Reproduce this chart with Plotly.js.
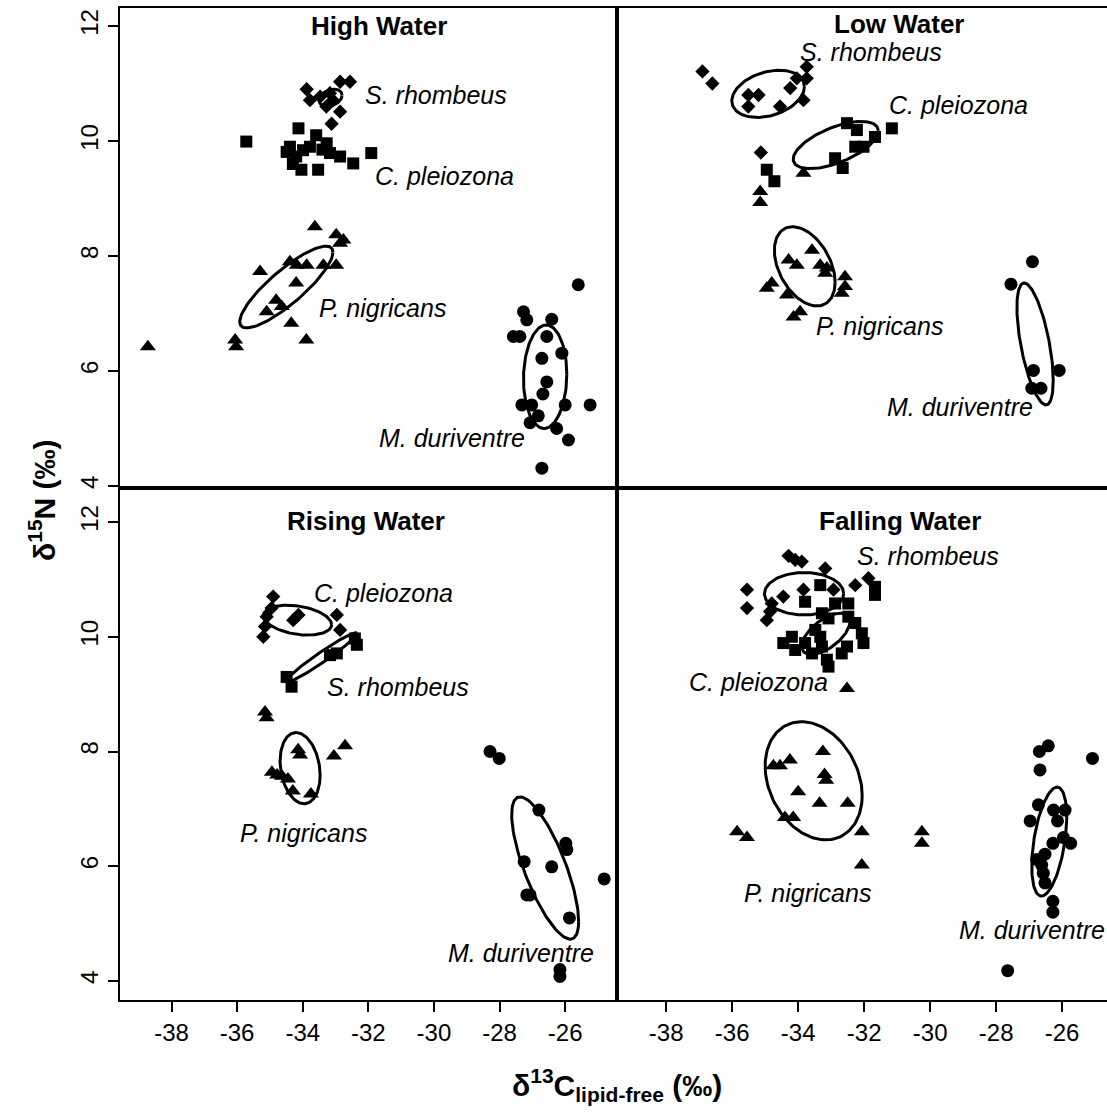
<!DOCTYPE html>
<html>
<head>
<meta charset="utf-8">
<script src="https://cdn.plot.ly/plotly-3.0.1.min.js"></script>
<style>html,body{margin:0;padding:0;background:#fff;}#chart{width:1107px;height:1114px;}</style>
</head>
<body>
<div id="chart"></div>
<script>
// ---------- DATA ----------
const panelTitles = ['High Water', 'Low Water', 'Rising Water', 'Falling Water'];
const xTickVals = [-38, -36, -34, -32, -30, -28, -26];
const xTickText = ['-38', '-36', '-34', '-32', '-30', '-28', '-26'];
const yTickVals = [4, 6, 8, 10, 12];
const yTickText = ['4', '6', '8', '10', '12'];

// High Water
const hwSrX = [-33.88, -32.56, -32.86, -33.12, -32.86, -33.78, -33.47, -33.17, -33.08, -33.28];
const hwSrY = [10.90, 11.03, 11.03, 10.30, 10.51, 10.71, 10.77, 10.83, 10.71, 10.60];
const hwCpX = [-35.72, -34.13, -33.59, -34.39, -33.99, -34.20, -34.04, -33.53, -33.78, -33.27, -33.17, -32.86, -32.46, -31.91, -34.49, -34.30, -33.40];
const hwCpY = [9.99, 10.22, 10.10, 9.90, 9.84, 9.73, 9.50, 9.50, 9.90, 9.96, 9.79, 9.73, 9.61, 9.79, 9.81, 9.60, 9.85];
const hwPnX = [-38.72, -36.06, -36.03, -35.30, -34.39, -34.18, -33.88, -33.37, -32.98, -32.86, -34.20, -34.81, -34.64, -35.10, -34.35, -33.89, -33.63, -32.98, -32.76];
const hwPnY = [6.42, 6.54, 6.42, 7.73, 7.90, 7.84, 7.84, 7.84, 7.84, 8.22, 7.53, 7.23, 7.12, 7.03, 6.83, 6.54, 8.51, 8.37, 8.28];
const hwMdX = [-25.60, -27.27, -27.17, -26.41, -27.58, -27.38, -26.56, -26.10, -26.71, -26.56, -26.68, -27.32, -27.02, -26.00, -25.24, -26.82, -27.07, -26.26, -25.90, -26.71];
const hwMdY = [7.50, 7.03, 6.89, 6.90, 6.60, 6.60, 6.60, 6.31, 6.22, 5.81, 5.60, 5.41, 5.41, 5.41, 5.41, 5.22, 5.10, 5.00, 4.80, 4.31];

// Low Water
const lwSrX = [-36.90, -36.60, -35.51, -35.20, -35.51, -34.55, -34.24, -34.04, -33.74, -33.84, -33.74, -35.13];
const lwSrY = [11.21, 11.00, 10.80, 10.80, 10.60, 10.60, 10.92, 11.09, 11.29, 10.71, 11.09, 9.80];
const lwCpX = [-34.95, -34.72, -32.52, -32.22, -32.27, -32.02, -32.88, -32.65, -31.67, -31.16];
const lwCpY = [9.50, 9.30, 10.31, 10.19, 9.90, 9.90, 9.70, 9.53, 10.07, 10.22];
const lwPnX = [-33.84, -35.15, -35.15, -33.58, -34.29, -34.04, -33.33, -33.13, -33.18, -32.58, -32.58, -32.68, -34.95, -34.80, -34.34, -34.14, -33.94];
const lwPnY = [9.44, 9.12, 8.93, 8.10, 7.93, 7.84, 7.84, 7.79, 7.70, 7.64, 7.47, 7.35, 7.44, 7.53, 7.32, 6.94, 7.03];
const lwMdX = [-26.90, -27.55, -26.87, -26.09, -26.92, -26.64];
const lwMdY = [7.90, 7.51, 6.01, 6.01, 5.70, 5.70];

// Rising Water
const rwSrX = [-34.90, -34.95, -35.10, -35.15, -35.20, -34.29, -34.13, -32.96, -32.86];
const rwSrY = [10.70, 10.50, 10.35, 10.18, 10.00, 10.29, 10.38, 10.38, 10.12];
const rwCpX = [-32.41, -32.35, -32.96, -33.17, -34.49, -34.34];
const rwCpY = [9.97, 9.86, 9.71, 9.68, 9.30, 9.13];
const rwPnX = [-35.15, -35.10, -34.14, -34.08, -34.94, -34.78, -34.63, -34.45, -34.30, -33.75, -33.05, -32.71];
const rwPnY = [8.69, 8.59, 8.03, 7.94, 7.64, 7.59, 7.57, 7.52, 7.31, 7.26, 7.92, 8.10];
const rwMdX = [-28.29, -28.01, -26.80, -25.98, -25.95, -27.25, -26.41, -27.17, -27.07, -25.87, -24.81, -26.16, -26.16];
const rwMdY = [8.00, 7.88, 6.98, 6.40, 6.29, 6.08, 5.99, 5.50, 5.50, 5.10, 5.78, 4.20, 4.08];

// Falling Water
const fwSrX = [-34.29, -34.09, -33.89, -33.18, -35.55, -35.55, -34.45, -33.84, -32.93, -32.27, -31.87, -34.80, -34.85, -34.95];
const fwSrY = [11.41, 11.34, 11.31, 11.19, 10.82, 10.50, 10.70, 10.82, 10.82, 10.90, 11.02, 10.58, 10.44, 10.29];
const fwCpX = [-33.33, -33.79, -32.88, -32.48, -33.28, -33.08, -32.48, -32.27, -32.07, -32.02, -31.67, -31.67, -34.45, -34.19, -34.09, -33.79, -33.58, -33.33, -33.28, -33.13, -33.08, -32.68, -32.52, -33.48];
const fwCpY = [10.90, 10.61, 10.58, 10.58, 10.41, 10.32, 10.35, 10.24, 10.06, 9.89, 10.87, 10.73, 9.89, 10.00, 9.77, 9.89, 9.71, 10.00, 9.83, 9.60, 9.48, 9.71, 9.83, 10.12];
const fwPnX = [-34.75, -34.55, -34.25, -33.25, -33.20, -33.15, -34.00, -34.40, -34.15, -33.35, -32.50, -32.07, -32.07, -35.85, -35.55, -30.25, -30.25, -32.52];
const fwPnY = [7.75, 7.75, 7.85, 8.00, 7.60, 7.50, 7.30, 6.85, 6.85, 7.10, 7.10, 6.60, 6.02, 6.60, 6.50, 6.60, 6.40, 9.10];
const fwMdX = [-26.42, -26.69, -26.67, -25.08, -26.72, -26.26, -25.91, -26.97, -26.14, -25.96, -25.74, -26.28, -26.52, -26.77, -26.62, -26.57, -26.52, -26.28, -26.28, -27.65];
const fwMdY = [8.10, 8.00, 7.68, 7.88, 7.07, 6.98, 6.98, 6.79, 6.79, 6.50, 6.40, 6.40, 6.21, 6.12, 6.02, 5.88, 5.71, 5.39, 5.20, 4.18];

// Standard ellipses: [centre x, centre y, half-width, half-height, correlation]
const hwEllipses = [[-33.15, 10.75, 0.35, 0.15, 0.3], [-34.5, 7.46, 1.42, 0.71, 0.85], [-26.61, 5.90, 0.66, 0.90, 0.05]];
const lwEllipses = [[-34.91, 10.82, 1.10, 0.41, 0.3], [-32.86, 9.93, 1.29, 0.41, 0.6], [-33.80, 7.82, 0.92, 0.69, -0.4], [-26.82, 6.47, 0.55, 1.06, -0.6]];
const rwEllipses = [[-34.16, 10.29, 1.04, 0.26, -0.3], [-33.43, 9.64, 1.08, 0.43, 0.97], [-34.08, 7.71, 0.61, 0.62, -0.2], [-26.61, 5.97, 1.02, 1.24, -0.75]];
const fwEllipses = [[-33.82, 10.75, 1.20, 0.37, 0.0], [-33.16, 10.05, 0.73, 0.36, 0.6], [-33.53, 7.49, 1.47, 1.03, -0.25], [-26.39, 6.43, 0.53, 0.95, 0.45]];

// Species labels: [text, x, y]
const hwLabels = [['S. rhombeus', -32.16, 10.80], ['C. pleiozona', -31.86, 9.39], ['P. nigricans', -33.57, 7.10], ['M. duriventre', -31.73, 4.83]];
const lwLabels = [['S. rhombeus', -34.01, 11.55], ['C. pleiozona', -31.31, 10.63], ['P. nigricans', -33.52, 6.78], ['M. duriventre', -31.36, 5.38]];
const rwLabels = [['C. pleiozona', -33.73, 10.76], ['S. rhombeus', -33.32, 9.13], ['P. nigricans', -35.97, 6.58], ['M. duriventre', -29.63, 4.49]];
const fwLabels = [['S. rhombeus', -32.27, 11.41], ['C. pleiozona', -37.37, 9.22], ['P. nigricans', -35.70, 5.54], ['M. duriventre', -29.19, 4.89]];

// ---------- BUILD ----------
const FONT = 'Liberation Sans, Arial, Helvetica, sans-serif';
const panels = [
  {xa: 'x', ya: 'y', sp: [[hwSrX, hwSrY], [hwCpX, hwCpY], [hwPnX, hwPnY], [hwMdX, hwMdY]], el: hwEllipses, lab: hwLabels},
  {xa: 'x2', ya: 'y2', sp: [[lwSrX, lwSrY], [lwCpX, lwCpY], [lwPnX, lwPnY], [lwMdX, lwMdY]], el: lwEllipses, lab: lwLabels},
  {xa: 'x3', ya: 'y3', sp: [[rwSrX, rwSrY], [rwCpX, rwCpY], [rwPnX, rwPnY], [rwMdX, rwMdY]], el: rwEllipses, lab: rwLabels},
  {xa: 'x4', ya: 'y4', sp: [[fwSrX, fwSrY], [fwCpX, fwCpY], [fwPnX, fwPnY], [fwMdX, fwMdY]], el: fwEllipses, lab: fwLabels}
];
const symbols = ['diamond', 'square', 'triangle-up', 'circle'];
const sizes = [11, 12, 14, 13];
const speciesNames = ['S. rhombeus', 'C. pleiozona', 'P. nigricans', 'M. duriventre'];

function ellipse(e) {
  const [cx, cy, sx, sy, r] = e;
  const xs = [], ys = [];
  const n = 120, q = Math.sqrt(1 - r * r);
  for (let i = 0; i <= n; i++) {
    const t = 2 * Math.PI * i / n;
    xs.push(cx + sx * Math.cos(t));
    ys.push(cy + sy * (r * Math.cos(t) + q * Math.sin(t)));
  }
  return {xs, ys};
}

const traces = [];
const annotations = [];
panels.forEach((p, pi) => {
  p.sp.forEach((s, si) => {
    traces.push({
      type: 'scatter', mode: 'markers', x: s[0], y: s[1], xaxis: p.xa, yaxis: p.ya,
      name: speciesNames[si], showlegend: false, hoverinfo: 'x+y',
      marker: {symbol: symbols[si], size: sizes[si], color: '#000', line: {width: 0}}
    });
  });
  p.el.forEach(e => {
    const E = ellipse(e);
    traces.push({
      type: 'scatter', mode: 'lines', x: E.xs, y: E.ys, xaxis: p.xa, yaxis: p.ya,
      showlegend: false, hoverinfo: 'skip', line: {color: '#000', width: 3}
    });
  });
  p.lab.forEach(l => {
    annotations.push({
      text: '<i>' + l[0] + '</i>', x: l[1], y: l[2], xref: p.xa, yref: p.ya,
      xanchor: 'left', yanchor: 'middle', showarrow: false,
      font: {family: FONT, size: 25, color: '#000'}
    });
  });
});

// panel titles
const titlePos = [[379, 26], [899, 24], [366, 521], [900, 521]];
panelTitles.forEach((t, i) => {
  annotations.push({
    text: '<b>' + t + '</b>', x: titlePos[i][0] / 1107, y: 1 - titlePos[i][1] / 1114,
    xref: 'paper', yref: 'paper', xanchor: 'center', yanchor: 'middle', showarrow: false,
    font: {family: FONT, size: 26, color: '#000'}
  });
});
// axis titles
annotations.push({
  text: '<b>δ<sup>13</sup>C<sub>lipid-free</sub> (‰)</b>', x: 617 / 1107, y: 1 - 1085 / 1114,
  xref: 'paper', yref: 'paper', xanchor: 'center', yanchor: 'middle', showarrow: false,
  font: {family: FONT, size: 30, color: '#000'}
});
annotations.push({
  text: '<b>δ<sup>15</sup>N (‰)</b>', x: 42 / 1107, y: 1 - 500 / 1114, textangle: -90,
  xref: 'paper', yref: 'paper', xanchor: 'center', yanchor: 'middle', showarrow: false,
  font: {family: FONT, size: 30, color: '#000'}
});

const W = 1107, H = 1114;
const xL = [120 / W, 617 / W], xR = [617 / W, 1];
const yT = [1 - 488 / H, 1 - 8 / H], yB = [1 - 1000 / H, 1 - 488 / H];
const rangeL = [-39.57, -24.42], rangeR = [-39.49, -24.64];
const rangeT = [3.965, 12.313], rangeB = [3.669, 12.593];

function xax(dom, rng, anchor, bottom) {
  return {
    domain: dom, range: rng, anchor: anchor, showgrid: false, zeroline: false,
    showline: true, linecolor: '#000', linewidth: 2, mirror: true,
    ticks: bottom ? 'outside' : '', ticklen: 10, tickwidth: 2, tickcolor: '#000',
    showticklabels: bottom, tickmode: 'array', tickvals: xTickVals, ticktext: xTickText,
    tickfont: {family: FONT, size: 24, color: '#000'}, fixedrange: true
  };
}
function yax(dom, rng, anchor, left) {
  return {
    domain: dom, range: rng, anchor: anchor, showgrid: false, zeroline: false,
    showline: true, linecolor: '#000', linewidth: 2, mirror: left,
    ticks: left ? 'outside' : '', ticklen: 10, tickwidth: 2, tickcolor: '#000',
    showticklabels: left, tickmode: 'array', tickvals: yTickVals, ticktext: yTickText,
    tickangle: -90, tickfont: {family: FONT, size: 24, color: '#000'}, fixedrange: true
  };
}

const layout = {
  width: W, height: H, margin: {l: 0, r: 0, t: 0, b: 0},
  paper_bgcolor: '#fff', plot_bgcolor: '#fff', showlegend: false,
  font: {family: FONT, color: '#000'},
  xaxis: xax(xL, rangeL, 'y', false),
  yaxis: yax(yT, rangeT, 'x', true),
  xaxis2: xax(xR, rangeR, 'y2', false),
  yaxis2: yax(yT, rangeT, 'x2', false),
  xaxis3: xax(xL, rangeL, 'y3', true),
  yaxis3: yax(yB, rangeB, 'x3', true),
  xaxis4: xax(xR, rangeR, 'y4', true),
  yaxis4: yax(yB, rangeB, 'x4', false),
  annotations: annotations
};

Plotly.newPlot('chart', traces, layout, {displayModeBar: false, staticPlot: true});
</script>
</body>
</html>
